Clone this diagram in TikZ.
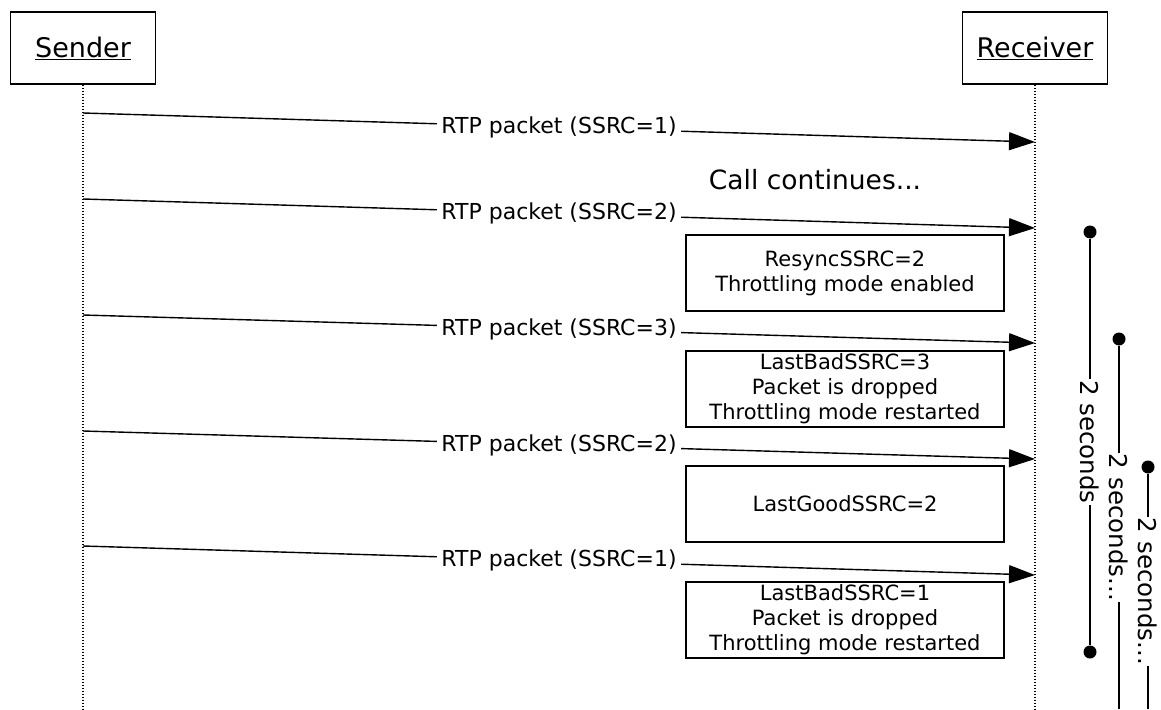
\documentclass[tikz,border=0pt]{standalone}
\usepackage{fontspec}
\setmainfont{DejaVu Sans}
\usepackage{tikz}
\usetikzlibrary{arrows.meta,positioning}

\begin{document}
\begin{tikzpicture}[x=1pt,y=-1pt]
			\tikzstyle{Actor}	= [draw, line width=1.6pt, minimum width=145pt, minimum height=72pt, inner sep=0pt, font=\fontsize{27}{31}\selectfont]
			\tikzstyle{Life}	= [line width=1.6pt, dash pattern=on 1.5pt off 1.5pt]
			\tikzstyle{Msg}		= [line width=1.4pt, -{Triangle[length=26pt,width=18pt]}]
			\tikzstyle{MsgText}	= [fill=white, inner sep=4pt, font=\fontsize{22}{25}\selectfont]
			\tikzstyle{Note}	= [draw, line width=1.4pt, minimum width=318pt, minimum height=76pt, inner sep=0pt, align=center, font=\fontsize{21}{25}\selectfont]
			\tikzstyle{Dot}		= [circle, fill=black, minimum size=13pt, inner sep=0pt]
			\tikzstyle{Timer}	= [line width=1.5pt]
			\tikzstyle{Secs}	= [fill=white, inner sep=1pt, rotate=-90, font=\fontsize{24.5}{28}\selectfont]

			\useasboundingbox (0,0) rectangle (1161,709);

			% participants
			\node (sender) at (83,48) [Actor] {\underline{Sender}};
			\node (receiver) at (1035,48) [Actor] {\underline{Receiver}};
			\coordinate (senderEnd) at (83,709);
			\coordinate (receiverEnd) at (1035,709);
			\draw (sender) to (senderEnd) [Life];
			\draw (receiver) to (receiverEnd) [Life];

			% messages
			\coordinate (s1) at (83,113);	\coordinate (r1) at (1035,142);
			\coordinate (s2) at (83,199);	\coordinate (r2) at (1035,228);
			\coordinate (s3) at (83,315);	\coordinate (r3) at (1035,343);
			\coordinate (s4) at (83,431);	\coordinate (r4) at (1035,459);
			\coordinate (s5) at (83,546);	\coordinate (r5) at (1035,575);

			\draw (s1) to node [MsgText] {RTP packet (SSRC=1)} (r1) [Msg];
			\draw (s2) to node [MsgText] {RTP packet (SSRC=2)} (r2) [Msg];
			\draw (s3) to node [MsgText] {RTP packet (SSRC=3)} (r3) [Msg];
			\draw (s4) to node [MsgText] {RTP packet (SSRC=2)} (r4) [Msg];
			\draw (s5) to node [MsgText] {RTP packet (SSRC=1)} (r5) [Msg];

			\node (callCont) at (815,180) [font=\fontsize{26.5}{30}\selectfont] {Call continues...};

			% receiver notes
			\node (resync) at (845,273) [Note] {ResyncSSRC=2\\Throttling mode enabled};
			\node (bad3) at (845,389) [Note] {LastBadSSRC=3\\Packet is dropped\\Throttling mode restarted};
			\node (good2) at (845,504) [Note] {LastGoodSSRC=2};
			\node (bad1) at (845,620) [Note] {LastBadSSRC=1\\Packet is dropped\\Throttling mode restarted};

			% timers
			\node (t1start) at (1090,232) [Dot] {};
			\node (t1stop) at (1090,652) [Dot] {};
			\node (t2start) at (1119,339) [Dot] {};
			\coordinate (t2stop) at (1119,709);
			\node (t3start) at (1148,467) [Dot] {};
			\coordinate (t3stop) at (1148,709);

			\draw (t1start) to node [Secs] {2 seconds} (t1stop) [Timer];
			\draw (t2start) to node [Secs] {2 seconds...} (t2stop) [Timer];
			\draw (t3start) to node [Secs] {2 seconds...} (t3stop) [Timer];
\end{tikzpicture}
\end{document}
